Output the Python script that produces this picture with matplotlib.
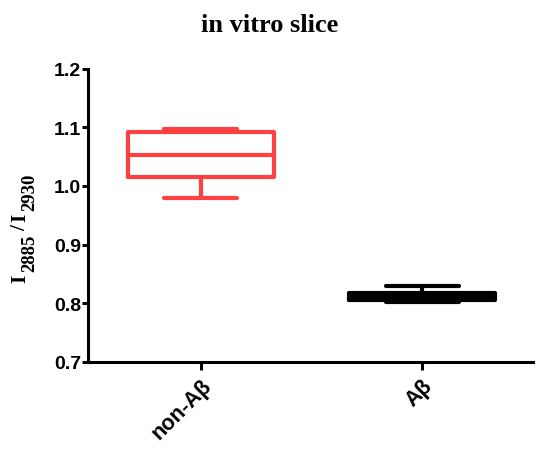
import matplotlib
matplotlib.use("Agg")
import matplotlib.pyplot as plt

# box statistics
groups = ["non-Aβ", "Aβ"]
whisker_low = [0.980, 0.802]
q1 = [1.015, 0.805]
median = [1.053, 0.812]
q3 = [1.092, 0.818]
whisker_high = [1.097, 0.830]
colors = ["#ff4040", "#000000"]
yticks = [0.7, 0.8, 0.9, 1.0, 1.1, 1.2]

# y label pieces: (text, is_subscript)
ylabel_parts = [("I", False), ("2885", True), ("/", False), ("I", False), ("2930", True)]

W, H = 550, 464
fig = plt.figure(figsize=(W / 100, H / 100), dpi=100)
ax = fig.add_axes([0.16, 0.2177, 0.809, 0.6325])

for i, g in enumerate(groups):
    stats = [dict(label=g, whislo=whisker_low[i], q1=q1[i], med=median[i],
                  q3=q3[i], whishi=whisker_high[i])]
    lp = dict(color=colors[i], linewidth=3, solid_capstyle="round",
              solid_joinstyle="round")
    ax.bxp(stats, positions=[i], widths=0.66, capwidths=0.33,
           showfliers=False,
           boxprops=lp, medianprops=lp, whiskerprops=lp, capprops=lp)

ax.set_xlim(-0.51, 1.5)
ax.set_ylim(0.7, 1.2)
ax.set_yticks(yticks)
ax.set_yticklabels([f"{t:.1f}" for t in yticks])
ax.set_xticks([0, 1])
ax.set_xticklabels(groups, rotation=45, ha="right", rotation_mode="anchor")

for s in ["top", "right"]:
    ax.spines[s].set_visible(False)
for s in ["left", "bottom"]:
    ax.spines[s].set_linewidth(2.2)
ax.tick_params(axis="y", length=4, width=2.2, pad=1)
ax.tick_params(axis="x", length=6, width=2.2, pad=3)
for lab in ax.get_yticklabels():
    lab.set_fontfamily("Liberation Sans")
    lab.set_fontweight("bold")
    lab.set_fontsize(14)
for lab in ax.get_xticklabels():
    lab.set_fontfamily("Liberation Sans")
    lab.set_fontweight("bold")
    lab.set_fontsize(15.5)

# y label built piece by piece so the subscripts can be sized freely
renderer = fig.canvas.get_renderer()
base_x, pos_y = 25, 181   # pixels from left / bottom
gap, drop = 3, 9
for txt, sub in ylabel_parts:
    size = 13.5 if sub else 15.5
    x = base_x + (drop if sub else 0)
    fig.text(x / W, pos_y / H, txt, rotation=90, rotation_mode="anchor",
             ha="left", va="baseline", fontfamily="Liberation Serif",
             fontweight="bold", fontsize=size)
    probe = fig.text(0, 0, txt, fontfamily="Liberation Serif",
                     fontweight="bold", fontsize=size)
    pos_y += probe.get_window_extent(renderer).width + gap
    probe.remove()

fig.text(270 / W, 1 - 25 / H, "in vitro slice", ha="center", va="center",
         fontfamily="Liberation Serif", fontweight="bold", fontsize=19)

fig.savefig("out.png", dpi=100)
